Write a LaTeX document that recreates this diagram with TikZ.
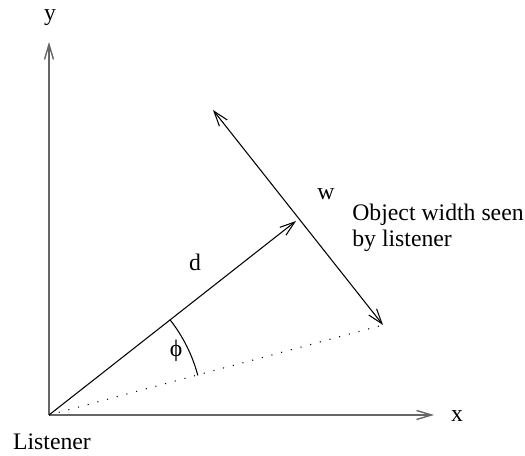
\documentclass[tikz,border=0pt]{standalone}
\usepackage{fontspec}
\setmainfont{Liberation Serif}
\usetikzlibrary{arrows.meta}

\begin{document}
\begin{tikzpicture}[
    every node/.style={font=\fontsize{13.5}{14.5}\selectfont},
    axis/.style={gray!80!black, line width=0.8pt, -{Straight Barb[length=3mm,width=1.8mm]}},
    vec/.style={line width=0.6pt, -{Straight Barb[length=3mm,width=2mm]}},
]
\useasboundingbox (-0.98,-0.82) rectangle (9.52,8.3);

% === Points ===
\coordinate (listener) at (0,0);
\coordinate (ytop) at (0,7.46);
\coordinate (xend) at (7.7,0);
\coordinate (dend) at (4.94,3.88);
\coordinate (wtop) at (3.28,6.1);
\coordinate (wbot) at (6.68,1.8);

% === Axes ===
\draw[axis] (listener) -- (ytop);
\draw[axis] (listener) -- (xend);
\node (ylab) at (0.02,7.94) {y};
\node (xlab) at (8.16,-0.02) {x};
\node (lis) at (0.06,-0.54) {Listener};

% === Distance and width ===
\draw[vec] (listener) -- (dend);
\draw[vec, {Straight Barb[length=3mm,width=2mm]}-{Straight Barb[length=3mm,width=2mm]}] (wtop) -- (wbot);
\draw[line width=0.6pt, dash pattern=on 0.6pt off 5.1pt] (listener) -- (wbot);

% === Angle ===
\draw[line width=0.6pt] (38.15:3.08) arc (38.15:14.9:3.08);

% === Labels ===
\node (dlab) at (2.92,3.06) {d};
\node (wlab) at (5.54,4.42) {w};
\node[anchor=west, align=left, inner xsep=0pt] (objlab) at (6.06,3.74) {Object width seen\\by listener};
\node (philab) at (2.54,1.28) {ϕ};

\end{tikzpicture}
\end{document}
